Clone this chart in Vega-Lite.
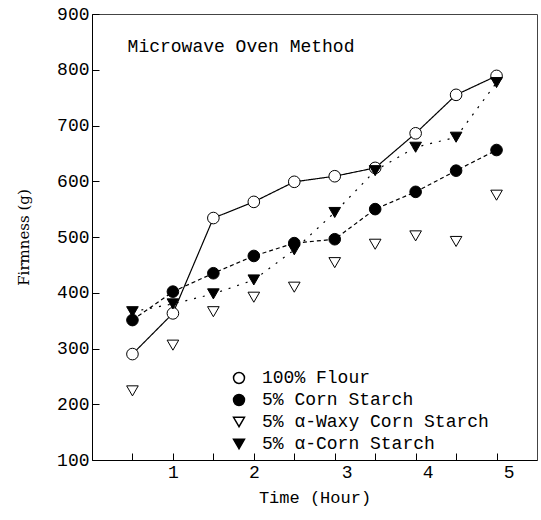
{
  "$schema": "https://vega.github.io/schema/vega-lite/v6.json",
  "autosize": "none",
  "padding": {"left": 92, "top": 14, "right": 4, "bottom": 60},
  "width": 445,
  "height": 446,
  "background": "white",
  "config": {
    "font": "Liberation Mono",
    "view": {"stroke": "#444", "strokeWidth": 1},
    "axis": {
      "domainColor": "black",
      "tickColor": "black",
      "labelColor": "black",
      "titleColor": "black",
      "labelFont": "Liberation Mono",
      "titleFont": "Liberation Mono",
      "labelFontSize": 18,
      "titleFontSize": 17,
      "titleFontWeight": "normal",
      "grid": false,
      "tickSize": -7,
      "labelPadding": 10
    }
  },
  "datasets": {
    "firmness": [
      {"hour": 0.5, "firmness": 290, "sample": "100% Flour"},
      {"hour": 1.0, "firmness": 363, "sample": "100% Flour"},
      {"hour": 1.5, "firmness": 534, "sample": "100% Flour"},
      {"hour": 2.0, "firmness": 563, "sample": "100% Flour"},
      {"hour": 2.5, "firmness": 599, "sample": "100% Flour"},
      {"hour": 3.0, "firmness": 609, "sample": "100% Flour"},
      {"hour": 3.5, "firmness": 624, "sample": "100% Flour"},
      {"hour": 4.0, "firmness": 686, "sample": "100% Flour"},
      {"hour": 4.5, "firmness": 755, "sample": "100% Flour"},
      {"hour": 5.0, "firmness": 789, "sample": "100% Flour"},
      {"hour": 0.5, "firmness": 351, "sample": "5% Corn Starch"},
      {"hour": 1.0, "firmness": 402, "sample": "5% Corn Starch"},
      {"hour": 1.5, "firmness": 435, "sample": "5% Corn Starch"},
      {"hour": 2.0, "firmness": 466, "sample": "5% Corn Starch"},
      {"hour": 2.5, "firmness": 489, "sample": "5% Corn Starch"},
      {"hour": 3.0, "firmness": 496, "sample": "5% Corn Starch"},
      {"hour": 3.5, "firmness": 550, "sample": "5% Corn Starch"},
      {"hour": 4.0, "firmness": 581, "sample": "5% Corn Starch"},
      {"hour": 4.5, "firmness": 619, "sample": "5% Corn Starch"},
      {"hour": 5.0, "firmness": 656, "sample": "5% Corn Starch"},
      {"hour": 0.5, "firmness": 224, "sample": "5% α-Waxy Corn Starch"},
      {"hour": 1.0, "firmness": 306, "sample": "5% α-Waxy Corn Starch"},
      {"hour": 1.5, "firmness": 366, "sample": "5% α-Waxy Corn Starch"},
      {"hour": 2.0, "firmness": 392, "sample": "5% α-Waxy Corn Starch"},
      {"hour": 2.5, "firmness": 410, "sample": "5% α-Waxy Corn Starch"},
      {"hour": 3.0, "firmness": 454, "sample": "5% α-Waxy Corn Starch"},
      {"hour": 3.5, "firmness": 487, "sample": "5% α-Waxy Corn Starch"},
      {"hour": 4.0, "firmness": 502, "sample": "5% α-Waxy Corn Starch"},
      {"hour": 4.5, "firmness": 492, "sample": "5% α-Waxy Corn Starch"},
      {"hour": 5.0, "firmness": 575, "sample": "5% α-Waxy Corn Starch"},
      {"hour": 0.5, "firmness": 366, "sample": "5% α-Corn Starch"},
      {"hour": 1.0, "firmness": 380, "sample": "5% α-Corn Starch"},
      {"hour": 1.5, "firmness": 398, "sample": "5% α-Corn Starch"},
      {"hour": 2.0, "firmness": 423, "sample": "5% α-Corn Starch"},
      {"hour": 2.5, "firmness": 477, "sample": "5% α-Corn Starch"},
      {"hour": 3.0, "firmness": 544, "sample": "5% α-Corn Starch"},
      {"hour": 3.5, "firmness": 619, "sample": "5% α-Corn Starch"},
      {"hour": 4.0, "firmness": 661, "sample": "5% α-Corn Starch"},
      {"hour": 4.5, "firmness": 679, "sample": "5% α-Corn Starch"},
      {"hour": 5.0, "firmness": 777, "sample": "5% α-Corn Starch"}
    ],
    "note": [
      {"hour": 0.44, "firmness": 841, "text": "Microwave Oven Method"}
    ]
  },
  "encoding": {
    "x": {
      "field": "hour",
      "type": "quantitative",
      "scale": {"domain": [0, 5.5], "nice": false},
      "axis": {
        "title": "Time (Hour)",
        "values": [0.5, 1, 1.5, 2, 2.5, 3, 3.5, 4, 4.5, 5],
        "labelExpr": "datum.value % 1 === 0 ? format(datum.value, 'd') : ''",
        "labelOffset": {"condition": {"test": "datum.value >= 3", "value": 12}, "value": 0},
        "titlePadding": 8
      }
    },
    "y": {
      "field": "firmness",
      "type": "quantitative",
      "scale": {"domain": [100, 900], "nice": false},
      "axis": {
        "title": "Firmness (g)",
        "titleFont": "DejaVu Serif",
        "titleFontSize": 15,
        "values": [100, 200, 300, 400, 500, 600, 700, 800, 900],
        "titlePadding": 25
      }
    }
  },
  "layer": [
    {
      "data": {"name": "firmness"},
      "transform": [{"filter": "datum.sample !== '5% α-Waxy Corn Starch'"}],
      "mark": {"type": "line", "color": "black", "strokeWidth": 1.2},
      "encoding": {
        "detail": {"field": "sample"},
        "strokeDash": {
          "field": "sample",
          "type": "nominal",
          "scale": {
            "domain": ["100% Flour", "5% Corn Starch", "5% α-Corn Starch"],
            "range": [[1, 0], [4, 3], [2, 7]]
          },
          "legend": null
        }
      }
    },
    {
      "data": {"name": "firmness"},
      "mark": {"type": "point", "filled": true, "stroke": "black", "strokeWidth": 1, "size": 135, "opacity": 1},
      "encoding": {
        "shape": {
          "field": "sample",
          "type": "nominal",
          "scale": {
            "domain": ["100% Flour", "5% Corn Starch", "5% α-Waxy Corn Starch", "5% α-Corn Starch"],
            "range": ["circle", "circle", "triangle-down", "triangle-down"]
          },
          "legend": {
            "title": null,
            "orient": "none",
            "legendX": 138,
            "legendY": 355,
            "labelFont": "Liberation Mono",
            "labelFontSize": 18,
            "labelColor": "black",
            "labelLimit": 400,
            "labelOffset": 14,
            "rowPadding": 4,
            "symbolSize": 120,
            "encode": {
              "symbols": {"update": {"stroke": {"value": "black"}, "strokeWidth": {"value": 1}}}
            }
          }
        },
        "fill": {
          "field": "sample",
          "type": "nominal",
          "scale": {
            "domain": ["100% Flour", "5% Corn Starch", "5% α-Waxy Corn Starch", "5% α-Corn Starch"],
            "range": ["white", "black", "white", "black"]
          },
          "legend": {
            "title": null,
            "orient": "none",
            "legendX": 138,
            "legendY": 355,
            "labelFont": "Liberation Mono",
            "labelFontSize": 18,
            "labelColor": "black",
            "labelLimit": 400,
            "labelOffset": 14,
            "rowPadding": 4,
            "symbolSize": 120,
            "encode": {
              "symbols": {"update": {"stroke": {"value": "black"}, "strokeWidth": {"value": 1}}}
            }
          }
        }
      }
    },
    {
      "data": {"name": "note"},
      "mark": {"type": "text", "align": "left", "baseline": "middle", "font": "Liberation Mono", "fontSize": 18, "color": "black"},
      "encoding": {"text": {"field": "text"}}
    }
  ]
}
